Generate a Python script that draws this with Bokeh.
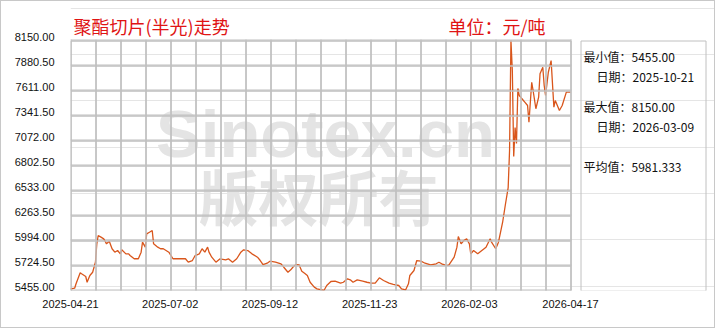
import pandas as pd
from bokeh.plotting import figure
from bokeh.models import (FixedTicker, NumeralTickFormatter, DatetimeTickFormatter,
                          Label, BoxAnnotation, Range1d, LinearAxis, ColumnDataSource)
from bokeh.embed import file_html
from bokeh.resources import INLINE

# ---------------- data ----------------
dates = [
    "2025-04-21", "2025-04-24", "2025-04-25", "2025-04-28", "2025-04-29", "2025-05-02",
    "2025-05-03", "2025-05-04", "2025-05-05", "2025-05-07", "2025-05-09", "2025-05-10",
    "2025-05-11", "2025-05-13", "2025-05-15", "2025-05-16", "2025-05-17", "2025-05-19",
    "2025-05-21", "2025-05-23", "2025-05-25", "2025-05-27", "2025-05-28", "2025-05-31",
    "2025-06-02", "2025-06-03", "2025-06-06", "2025-06-09", "2025-06-11", "2025-06-12",
    "2025-06-14", "2025-06-15", "2025-06-17", "2025-06-19", "2025-06-20", "2025-06-23",
    "2025-06-25", "2025-06-27", "2025-07-01", "2025-07-04", "2025-07-07", "2025-07-13",
    "2025-07-15", "2025-07-18", "2025-07-20", "2025-07-23", "2025-07-25", "2025-07-27",
    "2025-07-29", "2025-07-30", "2025-08-01", "2025-08-04", "2025-08-07", "2025-08-11",
    "2025-08-13", "2025-08-16", "2025-08-19", "2025-08-22", "2025-08-24", "2025-08-27",
    "2025-08-30", "2025-09-03", "2025-09-05", "2025-09-07", "2025-09-10", "2025-09-12",
    "2025-09-16", "2025-09-20", "2025-09-22", "2025-09-25", "2025-09-27", "2025-09-29",
    "2025-10-01", "2025-10-03", "2025-10-05", "2025-10-07", "2025-10-09", "2025-10-11",
    "2025-10-14", "2025-10-16", "2025-10-21", "2025-10-23", "2025-10-26", "2025-10-29",
    "2025-11-02", "2025-11-04", "2025-11-07", "2025-11-09", "2025-11-11", "2025-11-14",
    "2025-11-18", "2025-11-21", "2025-11-24", "2025-11-27", "2025-11-30", "2025-12-03",
    "2025-12-07", "2025-12-10", "2025-12-14", "2025-12-16", "2025-12-19", "2025-12-21",
    "2025-12-22", "2025-12-25", "2025-12-27", "2025-12-30", "2026-01-02", "2026-01-06",
    "2026-01-10", "2026-01-12", "2026-01-14", "2026-01-17", "2026-01-19", "2026-01-23",
    "2026-01-25", "2026-01-26", "2026-01-28", "2026-01-30", "2026-02-01", "2026-02-03",
    "2026-02-04", "2026-02-06", "2026-02-09", "2026-02-12", "2026-02-15", "2026-02-18",
    "2026-02-19", "2026-02-22", "2026-02-24", "2026-02-27", "2026-03-01", "2026-03-03",
    "2026-03-04", "2026-03-05", "2026-03-06", "2026-03-07", "2026-03-08", "2026-03-09",
    "2026-03-10", "2026-03-11", "2026-03-12", "2026-03-14", "2026-03-15", "2026-03-17",
    "2026-03-18", "2026-03-20", "2026-03-21", "2026-03-23", "2026-03-25", "2026-03-26",
    "2026-03-28", "2026-03-29", "2026-03-30", "2026-04-01", "2026-04-03", "2026-04-05",
    "2026-04-06", "2026-04-09", "2026-04-11", "2026-04-14", "2026-04-17",
]
prices = [
    5473, 5480, 5527, 5646, 5635, 5606,
    5544, 5581, 5617, 5652, 5760, 5958,
    6048, 6030, 6012, 5986, 5958, 5986,
    5905, 5868, 5886, 5850, 5894, 5850,
    5850, 5832, 5797, 5797, 5868, 5976,
    5922, 6066, 6083, 6102, 5958, 5922,
    5905, 5905, 5868, 5797, 5797, 5797,
    5760, 5778, 5832, 5850, 5905, 5868,
    5922, 5868, 5814, 5760, 5797, 5786,
    5797, 5760, 5797, 5868, 5894, 5886,
    5850, 5814, 5778, 5735, 5749, 5771,
    5760, 5743, 5706, 5652, 5678, 5714,
    5735, 5732, 5663, 5641, 5617, 5544,
    5491, 5473, 5455, 5509, 5552, 5555,
    5534, 5544, 5581, 5570, 5544, 5570,
    5555, 5544, 5534, 5534, 5592, 5563,
    5534, 5520, 5509, 5473, 5462, 5527,
    5617, 5671, 5778, 5771, 5749, 5732,
    5743, 5760, 5743, 5725, 5725, 5814,
    5922, 6037, 5958, 5994, 6012, 5958,
    5850, 5886, 5850, 5886, 5922, 6012,
    5976, 5905, 5976, 6191, 6382, 6565,
    6964, 8150, 7827, 6900, 7212, 7040,
    7633, 7557, 7539, 7503, 7485, 7449,
    7269, 7700, 7611, 7414, 7539, 7791,
    7862, 7665, 7557, 7808, 7934, 7431,
    7503, 7395, 7449, 7593, 7593,
]
y_ticks = [5455.0, 5724.5, 5994.0, 6263.5, 6533.0, 6802.5, 7072.0, 7341.5, 7611.0, 7880.5, 8150.0]
x_tick_labels = ["2025-04-21", "2025-07-02", "2025-09-12", "2025-11-23", "2026-02-03", "2026-04-17"]
title_text = "聚酯切片(半光)走势"
unit_text = "单位：元/吨"
stat_lines = ["最小值：5455.00", "日期：2025-10-21", "最大值：8150.00", "日期：2026-03-09", "平均值：5981.333"]
watermark_lines = ["Sinotex.cn", "版权所有"]

# ---------------- layout (canvas pixels; the page has a 1px CSS border) ----------------
CW, CH = 715, 328
FL, FB = 69, 289
PL, PR, PT, PB = 69, 569, 39, 289
N_COLS, N_ROWS = 20, len(y_ticks) - 1
GRID = "#c0c0c0"


def to_ms(s):
    return (pd.Timestamp(s) - pd.Timestamp("1970-01-01")).total_seconds() * 1000.0


x0, x1 = to_ms(x_tick_labels[0]), to_ms(x_tick_labels[-1])
y0, y1 = y_ticks[0], y_ticks[-1]
dx = (x1 - x0) / (PR - PL)
dy = (y1 - y0) / (PB - PT)

p = figure(width=CW, height=CH, output_backend="svg", toolbar_location=None,
           x_axis_type="datetime", y_axis_location=None,
           x_range=Range1d(x0, x0 + (CW - FL) * dx), y_range=Range1d(y0, y0 + FB * dy),
           min_border_left=FL, min_border_right=0, min_border_top=0,
           min_border_bottom=CH - FB)
p.styles = {"border": "1px solid #c8c8c8"}
p.background_fill_color = "white"
p.border_fill_color = "white"
p.outline_line_color = None
p.xgrid.grid_line_color = None

# x axis
xa = p.xaxis[0]
xa.ticker = FixedTicker(ticks=[to_ms(s) for s in x_tick_labels])
fmt = "%Y-%m-%d"
xa.formatter = DatetimeTickFormatter(milliseconds=fmt, seconds=fmt, minsec=fmt, minutes=fmt,
                                     hourmin=fmt, hours=fmt, days=fmt, months=fmt, years=fmt)
xa.axis_line_color = None
xa.major_tick_line_color = None
xa.minor_tick_line_color = None
xa.major_label_standoff = 3
xa.major_label_text_font = "Liberation Sans"
xa.major_label_text_font_size = "11px"
xa.major_label_text_color = "#111111"

# y axis: labels sit just above their grid line
shift = 3.7 * dy
p.extra_y_ranges = {"lab": Range1d(p.y_range.start - shift, p.y_range.end - shift)}
ya = LinearAxis(y_range_name="lab", ticker=FixedTicker(ticks=y_ticks),
                formatter=NumeralTickFormatter(format="0.00"))
ya.axis_line_color = None
ya.major_tick_line_color = None
ya.minor_tick_line_color = None
ya.major_tick_out = 0
ya.major_tick_in = 0
ya.major_label_standoff = 16
ya.major_label_text_font = "Liberation Sans"
ya.major_label_text_font_size = "11px"
ya.major_label_text_color = "#111111"
p.add_layout(ya, "left")


def page_to_data(px, py):
    cx, cy = px - 1, py - 1
    return x0 + (cx - PL) * dx, y0 + (PB - cy) * dy


# watermark
w1 = page_to_data(325, 133)
w2 = page_to_data(318, 194)
wm_src = ColumnDataSource(dict(x=[w1[0], w2[0]], y=[w1[1], w2[1]], t=watermark_lines,
                               f=["Liberation Sans", "Noto Sans CJK SC"], s=["67px", "60px"]))
p.text(x="x", y="y", text="t", source=wm_src, text_font="f", text_font_size="s",
       text_font_style="bold", text_color="#e4e4e4", text_align="center",
       text_baseline="middle")

# grid strips (glyph level, beneath the price line)
vx = [x0 + k * (x1 - x0) / N_COLS for k in range(N_COLS + 1)]
p.quad(left=vx, right=[v + dx for v in vx], bottom=[y0] * len(vx), top=[y1 + dy] * len(vx),
       fill_color=GRID, fill_alpha=1.0, line_color=None)
p.quad(left=[x0] * len(y_ticks), right=[x1 + dx] * len(y_ticks), bottom=y_ticks,
       top=[t + dy for t in y_ticks], fill_color=GRID, fill_alpha=1.0, line_color=None)

# price line
p.line(x=pd.to_datetime(dates), y=prices, line_color="#d9561c", line_width=1.3)

# grid cells as outlined boxes too (fully opaque strokes)
col_w = (PR - PL) / N_COLS
row_h = (PB - PT) / N_ROWS
for k in range(N_COLS):
    p.add_layout(BoxAnnotation(left=0.5 + k * col_w, right=0.5 + (k + 1) * col_w,
                               bottom=-0.5, top=-0.5 + (PB - PT),
                               left_units="screen", right_units="screen",
                               bottom_units="screen", top_units="screen",
                               fill_alpha=0, line_color=GRID, line_alpha=1.0, line_width=1))
for j in range(N_ROWS):
    p.add_layout(BoxAnnotation(left=0.5, right=0.5 + (PR - PL),
                               bottom=-0.5 + j * row_h, top=-0.5 + (j + 1) * row_h,
                               left_units="screen", right_units="screen",
                               bottom_units="screen", top_units="screen",
                               fill_alpha=0, line_color=GRID, line_alpha=1.0, line_width=1))


def scr(px, py):
    return px - 1 - FL, FB - (py - 1)


# titles
for txt, (px, py) in zip([title_text, unit_text], [(73, 25), (448, 25)]):
    sx, sy = scr(px, py)
    p.add_layout(Label(x=sx, y=sy, x_units="screen", y_units="screen", text=txt,
                       text_font="Noto Sans CJK SC", text_font_size="18px", text_color="#e01414",
                       text_align="left", text_baseline="middle"))

# statistics panel
bl, bb = scr(580.5, 290.5)
br, bt = scr(705.5, 40.5)
p.add_layout(BoxAnnotation(left=bl, right=br, bottom=bb, top=bt,
                           left_units="screen", right_units="screen",
                           bottom_units="screen", top_units="screen",
                           fill_alpha=0, line_color=GRID, line_alpha=1.0, line_width=1))
stat_pos = [(583, 56), (596, 76), (583, 106), (596, 126), (583, 166)]
for txt, (px, py) in zip(stat_lines, stat_pos):
    sx, sy = scr(px, py)
    p.add_layout(Label(x=sx, y=sy, x_units="screen", y_units="screen", text=txt,
                       text_font="Noto Sans CJK SC", text_font_size="12px",
                       text_color="#111111", text_align="left", text_baseline="middle"))

open("out.html", "w").write(file_html(p, INLINE))
